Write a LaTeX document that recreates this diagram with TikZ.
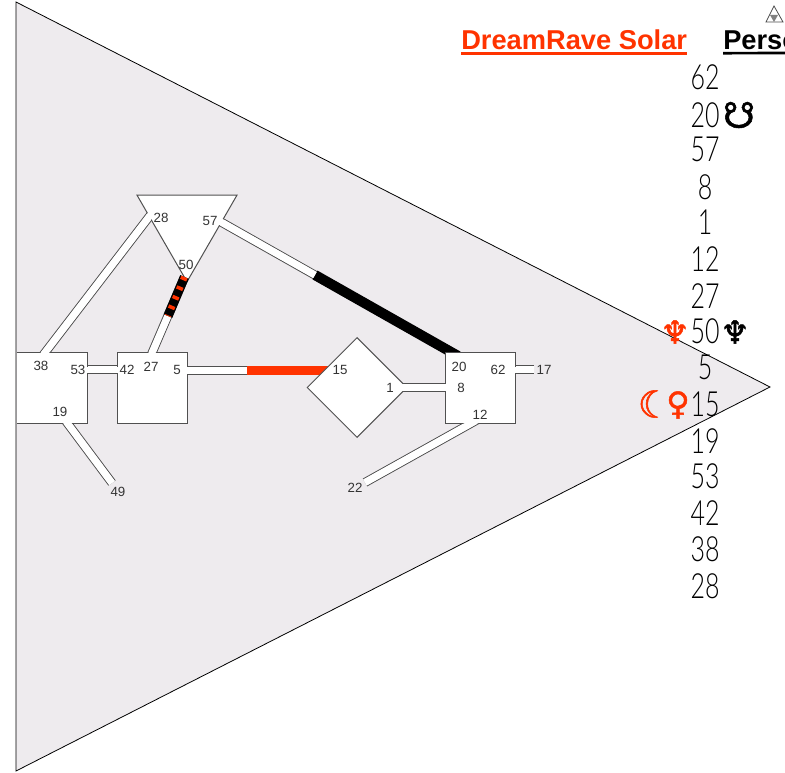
\documentclass[tikz,border=0pt]{standalone}
\usepackage{fontspec}
\setmainfont{Liberation Sans}
\newfontfamily\gatefont[UprightFont=* Light]{Lato}
\newfontfamily\planetfont[FakeBold=1.5]{DejaVu Sans}
\usetikzlibrary{shapes.geometric}
\definecolor{bodygray}{HTML}{EEEBEE}
\definecolor{rimgray}{HTML}{505050}
\definecolor{solarred}{HTML}{FF3300}
\newcommand{\gateglyph}[1]{\scalebox{.72}[1]{#1}}

\begin{document}
\begin{tikzpicture}[
        x=.75pt,y=-.75pt,
        centre/.style={draw=rimgray,fill=white,line width=.75pt,inner sep=0pt},
        boxcentre/.style={centre,rectangle,minimum width=52.5pt,minimum height=52.5pt},
        channel/.style={draw=rimgray,line width=.75pt,double=white,double distance=5.25pt},
        opening/.style={draw=white,line width=5pt},
        gate/.style={text=black!80,font=\fontsize{10}{11}\selectfont,inner sep=0pt},
        glyph/.style={font=\gatefont\fontsize{26}{28}\selectfont,inner sep=0pt},
        planet/.style={font=\planetfont\fontsize{24}{26}\selectfont,inner sep=0pt},
        heading/.style={font=\bfseries\fontsize{20.45}{24}\selectfont,inner sep=0pt,anchor=base west}]

    \useasboundingbox (0,0) rectangle (785,773);
    \clip (0,0) rectangle (785,773);

    % body outline
    \draw[fill=bodygray,line width=.6pt] (16,2) -- (770,387) -- (16,771) -- cycle;

    % channel ends
    \coordinate (c38) at (42,356.5);
    \coordinate (c28) at (152,213);
    \coordinate (c53) at (84,370);
    \coordinate (c42) at (120,370);
    \coordinate (c27) at (150.7,356);
    \coordinate (c50) at (184.5,277);
    \coordinate (c50b) at (168,316);
    \coordinate (c5) at (184,370.5);
    \coordinate (c5r) at (247,370.5);
    \coordinate (c15) at (330,370.5);
    \coordinate (c57) at (217.5,220);
    \coordinate (c57b) at (315,275);
    \coordinate (c20) at (458,356);
    \coordinate (c1) at (398,387.5);
    \coordinate (c8) at (447,387.5);
    \coordinate (c12) at (477,420);
    \coordinate (c22) at (365,482.5);
    \coordinate (c62) at (513,370);
    \coordinate (c17) at (534,370);
    \coordinate (c19) at (65,420);
    \coordinate (c49) at (112,483);

    \draw[channel] (c38) -- (c28);
    \draw[channel] (c53) -- (c42);
    \draw[channel] (c27) -- (c50);
    \draw[channel] (c5) -- (c15);
    \draw[channel] (c57) -- (c20);
    \draw[channel] (c1) -- (c8);
    \draw[channel] (c12) -- (c22);
    \draw[channel] (c62) -- (c17);
    \draw[channel] (c19) -- (c49);

    \draw[solarred,line width=6.4pt] (c5r) -- (c15);
    \draw[black,line width=7.6pt] (c57b) -- (c20);

    % centres
    \node[fill=white,inner sep=0pt,minimum width=52.5pt,minimum height=52.5pt] (spleen) at (52,388) {};
    \draw[rimgray,line width=.75pt] (spleen.north west) -- (spleen.north east)
        -- (spleen.south east) -- (spleen.south west);
    \node[boxcentre] (throat) at (152,388) {};
    \node[boxcentre] (sacral) at (480,388) {};
    \node[centre,diamond,minimum width=75pt,minimum height=75pt] (heart) at (357,387.5) {};
    \node[centre,regular polygon,regular polygon sides=3,shape border rotate=180,
        minimum size=86.6pt] (ajna) at (187,224) {};

    \draw[opening] (c38) -- (c28);
    \draw[opening] (c53) -- (c42);
    \draw[opening] (c27) -- (c50b);
    \draw[opening] (c5) -- (c5r);
    \draw[opening] (c57) -- (c57b);
    \draw[opening] (c1) -- (c8);
    \draw[opening] (c12) -- (c22);
    \draw[opening] (c62) -- (c17);
    \draw[opening] (c19) -- (c49);

    \draw[black,line width=7pt] (c50b) -- (c50);
    \draw[solarred,line width=5pt,dash pattern=on 2.6pt off 5.2pt] (c50) -- (c50b);

    % gate numbers
    \node[gate] (g38) at (41,366) {38};
    \node[gate] (g53) at (78,370) {53};
    \node[gate] (g42) at (127,370) {42};
    \node[gate] (g27) at (151,367) {27};
    \node[gate] (g5) at (177,370) {5};
    \node[gate] (g19) at (60,412) {19};
    \node[gate] (g49) at (118,492) {49};
    \node[gate] (g28) at (161,218) {28};
    \node[gate] (g57) at (210,221) {57};
    \node[gate] (g50) at (186,265) {50};
    \node[gate] (g15) at (340,370) {15};
    \node[gate] (g1) at (390,388) {1};
    \node[gate] (g20) at (459,367) {20};
    \node[gate] (g62) at (498,370) {62};
    \node[gate] (g8) at (461,388) {8};
    \node[gate] (g12) at (480,415) {12};
    \node[gate] (g17) at (544,370) {17};
    \node[gate] (g22) at (355,488) {22};

    % column
    \foreach \gatenum/\gatey in {62/77,20/115,57/149,8/187,1/222,12/259,27/296,50/331,
            5/367,15/404,19/441,53/476,42/513,38/549,28/586}
        \node[glyph] (col\gatenum) at (705,\gatey) {\gateglyph{\gatenum}};

    \node[planet,font=\planetfont\fontsize{27}{30}\selectfont] (southnode) at (739,115) {^^^^260b};
    \node[planet] (neptuneb) at (735,332) {^^^^2646};
    \node[planet,text=solarred] (neptuner) at (675,332) {^^^^2646};
    \node[planet,text=solarred,font=\planetfont\fontsize{28}{30}\selectfont] (moonr) at (654.5,404) {^^^^263e};
    \node[planet,text=solarred] (venusr) at (678,405) {^^^^2640};

    % headings
    \node[heading,text=solarred] (solar) at (461,50) {DreamRave Solar};
    \node[heading] (perso) at (723,50) {Perso};
    \draw[solarred,line width=2pt] ([yshift=-2.4pt]solar.base west) -- ([yshift=-2.4pt]solar.base east);
    \draw[black,line width=2pt] ([yshift=-2.4pt]perso.base west) -- (785,53);

    % small mark
    \draw[line width=.6pt,draw=black!70] (774,6) -- (783,22) -- (766,22) -- cycle;
    \fill[gray] (770,15) -- (778,15) -- (774,22) -- cycle;
\end{tikzpicture}
\end{document}
